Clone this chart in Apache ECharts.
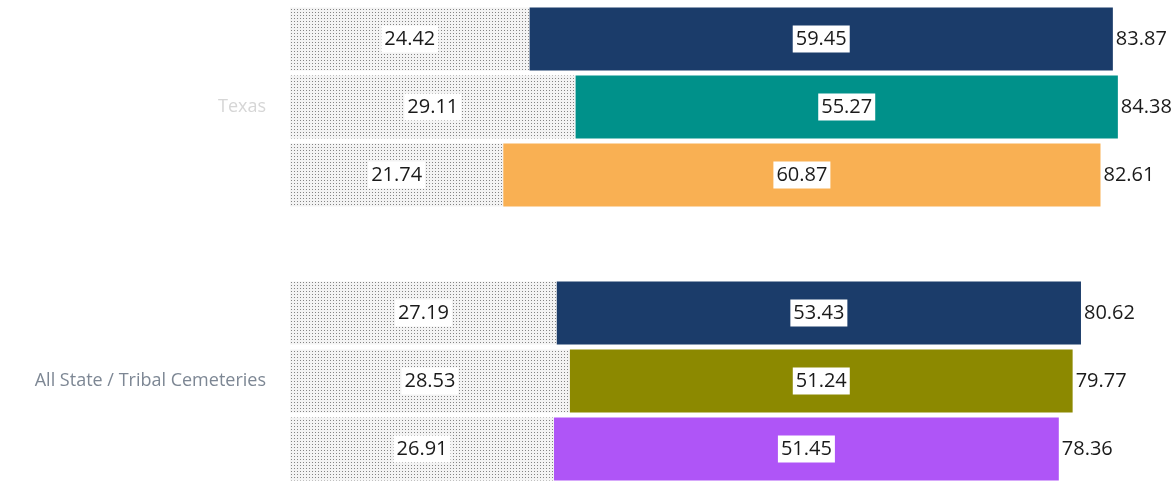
<!DOCTYPE html>
<html>
<head>
<meta charset="utf-8">
<script src="https://cdn.jsdelivr.net/npm/echarts@6/dist/echarts.min.js"></script>
<style>
  html, body { margin: 0; padding: 0; background: #fff; overflow: hidden; width: 1173px; height: 481px; }
  #chart { position: absolute; left: 0; top: -30px; width: 1173px; height: 548px; }
</style>
</head>
<body>
<div id="chart"></div>
<script>
// Categories (top to bottom)
const categories = ['Texas', 'All State / Tribal Cemeteries'];

// Three stacked bars per category: a base part and an added part
const baseA = [24.42, 27.19];
const addA  = [59.45, 53.43];
const baseB = [29.11, 28.53];
const addB  = [55.27, 51.24];
const baseC = [21.74, 26.91];
const addC  = [60.87, 51.45];

// Fill colours of the added part, per category
const colorsA = ['#1b3c6a', '#1b3c6a'];
const colorsB = ['#00918a', '#8c8900'];
const colorsC = ['#f9b053', '#af55f7'];

const labelColors = { 'Texas': '#d6d6d6', 'All State / Tribal Cemeteries': '#7d8794' };

const FONT = 'Open Sans';
const BAR_W = 63;

const boxLabel = {
  show: true,
  position: 'inside',
  color: '#1a1a1a',
  fontFamily: FONT,
  fontSize: 20,
  backgroundColor: '#ffffff',
  padding: [4, 3, 3, 3],
  formatter: p => p.value.toFixed(2)
};

const baseDecal = {
  symbol: 'rect',
  symbolSize: 1,
  color: 'rgba(40,40,40,0.55)',
  dashArrayX: [1, 2],
  dashArrayY: [1, 2],
  rotation: 0
};

function group(id, base, add, colors) {
  const totals = base.map((b, i) => b + add[i]);
  return [
    {
      name: id + ' base', type: 'bar', stack: id, barWidth: BAR_W, barGap: '8%',
      data: base,
      itemStyle: { color: '#f3f3f3', decal: baseDecal },
      label: boxLabel
    },
    {
      name: id + ' added', type: 'bar', stack: id, barWidth: BAR_W, barGap: '8%',
      data: add.map((v, i) => ({ value: v, itemStyle: { color: colors[i] } })),
      label: boxLabel
    },
    {
      name: id + ' total', type: 'bar', stack: id, barWidth: BAR_W, barGap: '8%',
      data: totals.map(() => 0),
      itemStyle: { color: 'transparent' },
      label: {
        show: true, position: 'right', distance: 3,
        color: '#1a1a1a', fontFamily: FONT, fontSize: 20,
        formatter: p => totals[p.dataIndex].toFixed(2)
      }
    }
  ];
}

const chart = echarts.init(document.getElementById('chart'));
chart.setOption({
  animation: false,
  backgroundColor: '#ffffff',
  grid: { left: 290, top: 0, width: 886, bottom: 0, containLabel: false },
  xAxis: {
    type: 'value', min: 0, max: 90,
    show: false
  },
  yAxis: {
    type: 'category',
    data: categories,
    inverse: true,
    axisLine: { show: false },
    axisTick: { show: false },
    axisLabel: {
      margin: 24,
      fontFamily: FONT,
      fontSize: 18,
      formatter: v => '{' + (v === 'Texas' ? 't' : 'a') + '|' + v + '}',
      rich: {
        t: { color: labelColors['Texas'], fontFamily: FONT, fontSize: 18 },
        a: { color: labelColors['All State / Tribal Cemeteries'], fontFamily: FONT, fontSize: 18 }
      }
    }
  },
  series: [
    ...group('A', baseA, addA, colorsA),
    ...group('B', baseB, addB, colorsB),
    ...group('C', baseC, addC, colorsC)
  ]
});
</script>
</body>
</html>
